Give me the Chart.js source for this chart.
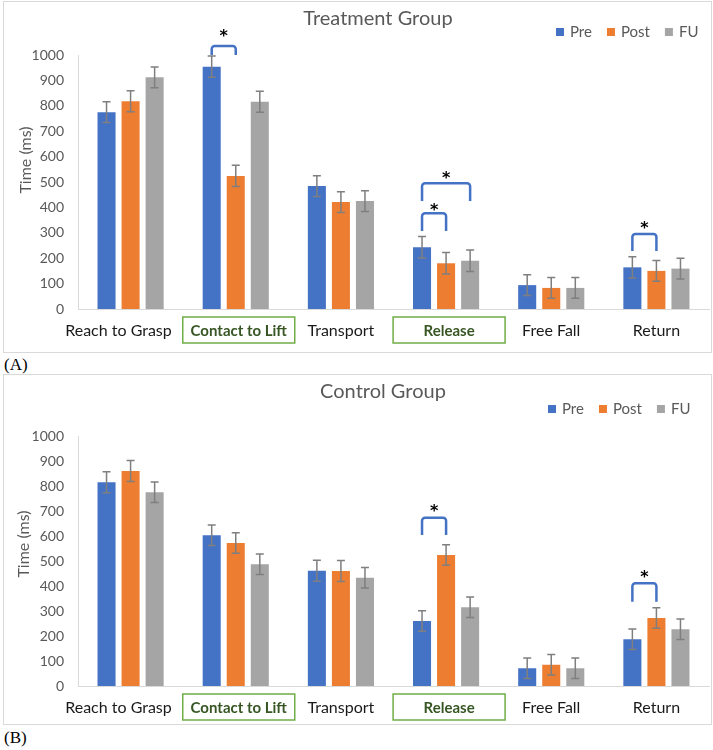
<!DOCTYPE html>
<html>
<head>
<meta charset="utf-8">
<script src="https://cdn.jsdelivr.net/npm/chart.js@4.4.1/dist/chart.umd.min.js"></script>
<style>
  html, body { margin: 0; padding: 0; background: #fff; }
  body { width: 713px; height: 750px; position: relative; overflow: hidden; }
  .panel { position: absolute; left: 3px; width: 707px; border: 1px solid #d9d9d9; }
  .panel canvas { display: block; }
  #panelA { top: 1px; height: 350px; }
  #panelB { top: 374px; height: 349px; }
  .tag { position: absolute; left: 4px; font-family: "Liberation Serif", serif; font-size: 17px; color: #000; line-height: 20px; }
</style>
</head>
<body>
<div class="panel" id="panelA"><canvas id="chartA" width="707" height="350"></canvas></div>
<div class="tag" style="top:355px">(A)</div>
<div class="panel" id="panelB"><canvas id="chartB" width="707" height="349"></canvas></div>
<div class="tag" style="top:728px">(B)</div>

<script>
  /* ---- data ---- */
  var categories = ['Reach to Grasp', 'Contact to Lift', 'Transport', 'Release', 'Free Fall', 'Return'];
  var seriesNames = ['Pre', 'Post', 'FU'];
  var seriesColors = ['#4472C4', '#ED7D31', '#A5A5A5'];
  var boxedCategories = [1, 3];
  var yMax = 1000;
  var yStep = 100;

  // Treatment group (A)
  var treatPre  = [775, 954, 484, 243, 94, 164];
  var treatPost = [818, 524, 421, 180, 83, 150];
  var treatFU   = [912, 816, 425, 190, 83, 159];
  var treatErrPre  = [41, 42, 41, 42, 41, 42];
  var treatErrPost = [41, 42, 41, 42, 41, 41];
  var treatErrFU   = [41, 41, 41, 42, 41, 41];
  // significance brackets: category, from series, to series, top, leg end, star
  var treatBrackets = [
    { cat: 1, from: 0, to: 1, top: 1035, leg: 1000, star: 1087 },
    { cat: 3, from: 0, to: 2, top: 495, leg: 425, star: 527 },
    { cat: 3, from: 0, to: 1, top: 377, leg: 307, star: 403 },
    { cat: 5, from: 0, to: 1, top: 295, leg: 228, star: 331 }
  ];

  // Control group (B)
  var ctrlPre  = [815, 603, 461, 260, 71, 187];
  var ctrlPost = [860, 572, 460, 524, 85, 272];
  var ctrlFU   = [775, 487, 433, 315, 71, 227];
  var ctrlErrPre  = [42, 41, 42, 41, 41, 41];
  var ctrlErrPost = [42, 41, 42, 41, 41, 41];
  var ctrlErrFU   = [41, 41, 41, 41, 41, 41];
  var ctrlBrackets = [
    { cat: 3, from: 0, to: 1, top: 673, leg: 604, star: 713 },
    { cat: 5, from: 0, to: 1, top: 411, leg: 337, star: 448 }
  ];

  var FONT = 'Lato, "Open Sans", sans-serif';
  var GREY_TEXT = '#595959';
  var BOX_HALF = 56;

  /* ---- custom drawing: error bars, brackets, labels, legend ---- */
  var decorPlugin = {
    id: 'decor',
    afterDatasetsDraw: function (chart) {
      var o = chart.options.plugins.decor;
      var ctx = chart.ctx;
      var yScale = chart.scales.y;
      ctx.save();
      ctx.strokeStyle = '#7f7f7f';
      ctx.lineWidth = 1.5;
      o.errors.forEach(function (errs, s) {
        var meta = chart.getDatasetMeta(s);
        meta.data.forEach(function (bar, i) {
          var v = chart.data.datasets[s].data[i];
          var y1 = yScale.getPixelForValue(v + errs[i]);
          var y2 = yScale.getPixelForValue(v - errs[i]);
          ctx.beginPath();
          ctx.moveTo(bar.x, y1); ctx.lineTo(bar.x, y2);
          ctx.moveTo(bar.x - 4, y1); ctx.lineTo(bar.x + 4, y1);
          ctx.moveTo(bar.x - 4, y2); ctx.lineTo(bar.x + 4, y2);
          ctx.stroke();
        });
      });
      ctx.restore();
    },
    afterDraw: function (chart) {
      var o = chart.options.plugins.decor;
      var ctx = chart.ctx;
      var xScale = chart.scales.x;
      var yScale = chart.scales.y;
      var area = chart.chartArea;
      ctx.save();

      // title
      ctx.fillStyle = GREY_TEXT;
      ctx.font = '20px ' + FONT;
      ctx.textAlign = 'center';
      ctx.textBaseline = 'middle';
      ctx.fillText(o.title, o.titleX, o.titleY);

      // legend
      ctx.font = '15px ' + FONT;
      ctx.textAlign = 'left';
      var lx = o.legendX;
      seriesNames.forEach(function (name, s) {
        ctx.fillStyle = seriesColors[s];
        ctx.fillRect(lx, o.legendY - 4, 8, 8);
        ctx.fillStyle = GREY_TEXT;
        ctx.fillText(name, lx + 14, o.legendY);
        lx += 14 + ctx.measureText(name).width + 15;
      });

      // y axis title
      ctx.save();
      ctx.translate(o.yTitleX, o.yTitleY);
      ctx.rotate(-Math.PI / 2);
      ctx.font = '16px ' + FONT;
      ctx.textAlign = 'center';
      ctx.fillStyle = GREY_TEXT;
      ctx.fillText('Time (ms)', 0, 0);
      ctx.restore();

      // category labels (plain labels are nudged left if they would touch a box)
      categories.forEach(function (label, i) {
        var cx = xScale.getPixelForValue(i);
        var boxed = boxedCategories.indexOf(i) !== -1;
        ctx.textAlign = 'center';
        if (boxed) {
          ctx.strokeStyle = '#70AD47';
          ctx.lineWidth = 1.5;
          ctx.strokeRect(cx + 3 - BOX_HALF, area.bottom + 8, BOX_HALF * 2, 26);
          ctx.fillStyle = '#375623';
          ctx.font = 'bold 15px ' + FONT;
          ctx.fillText(label, cx + 3, area.bottom + 22);
        } else {
          ctx.fillStyle = '#1a1a1a';
          ctx.font = '16px ' + FONT;
          var half = ctx.measureText(label).width / 2;
          if (boxedCategories.indexOf(i + 1) !== -1) {
            var limit = xScale.getPixelForValue(i + 1) + 3 - BOX_HALF - 11;
            if (cx + half > limit) cx = limit - half;
          }
          ctx.fillText(label, cx, area.bottom + 22);
        }
      });

      // significance brackets
      o.brackets.forEach(function (b) {
        var x1 = chart.getDatasetMeta(b.from).data[b.cat].x;
        var x2 = chart.getDatasetMeta(b.to).data[b.cat].x;
        var yTop = yScale.getPixelForValue(b.top);
        var yLeg = yScale.getPixelForValue(b.leg);
        ctx.strokeStyle = '#4472C4';
        ctx.lineWidth = 2.5;
        ctx.lineJoin = 'round';
        ctx.beginPath();
        ctx.moveTo(x1, yLeg);
        ctx.arcTo(x1, yTop, x2, yTop, 3);
        ctx.arcTo(x2, yTop, x2, yLeg, 3);
        ctx.lineTo(x2, yLeg);
        ctx.stroke();
        ctx.fillStyle = '#000';
        ctx.font = 'bold 16px "DejaVu Sans", sans-serif';
        ctx.textAlign = 'center';
        ctx.fillText('*', (x1 + x2) / 2, yScale.getPixelForValue(b.star) + 4);
      });

      ctx.restore();
    }
  };

  function makeChart(canvasId, values, errors, brackets, cfg) {
    var datasets = values.map(function (vals, s) {
      return {
        label: seriesNames[s],
        data: vals,
        backgroundColor: seriesColors[s],
        borderWidth: 0,
        categoryPercentage: 0.686,
        barPercentage: 0.75
      };
    });

    return new Chart(document.getElementById(canvasId), {
      type: 'bar',
      data: { labels: categories, datasets: datasets },
      plugins: [decorPlugin],
      options: {
        responsive: false,
        animation: false,
        layout: { padding: { top: cfg.padTop, right: 2, left: 0, bottom: 0 } },
        plugins: {
          legend: { display: false },
          title: { display: false },
          tooltip: { enabled: false },
          decor: {
            errors: errors,
            brackets: brackets,
            title: cfg.title,
            titleX: cfg.titleX,
            titleY: cfg.titleY,
            legendX: cfg.legendX,
            legendY: cfg.legendY,
            yTitleX: cfg.yTitleX,
            yTitleY: cfg.yTitleY
          }
        },
        scales: {
          x: {
            grid: { display: false },
            border: { color: '#d9d9d9', width: 1 },
            ticks: { display: false },
            afterFit: function (scale) { scale.height = cfg.xHeight; }
          },
          y: {
            min: 0,
            max: yMax,
            grid: { display: false, drawTicks: false },
            border: { color: '#d9d9d9', width: 1 },
            ticks: {
              stepSize: yStep,
              padding: 14,
              color: GREY_TEXT,
              font: { family: FONT, size: 14 },
              callback: function (v) { return String(v); }
            },
            afterFit: function (scale) { scale.width = 74; }
          }
        }
      }
    });
  }

  makeChart('chartA',
    [treatPre, treatPost, treatFU],
    [treatErrPre, treatErrPost, treatErrFU],
    treatBrackets,
    { padTop: 53, xHeight: 43, title: 'Treatment Group', titleX: 374, titleY: 17,
      legendX: 552, legendY: 30, yTitleX: 22, yTitleY: 158 });

  makeChart('chartB',
    [ctrlPre, ctrlPost, ctrlFU],
    [ctrlErrPre, ctrlErrPost, ctrlErrFU],
    ctrlBrackets,
    { padTop: 61, xHeight: 38, title: 'Control Group', titleX: 379, titleY: 17,
      legendX: 544, legendY: 34, yTitleX: 20, yTitleY: 169 });
</script>
</body>
</html>
